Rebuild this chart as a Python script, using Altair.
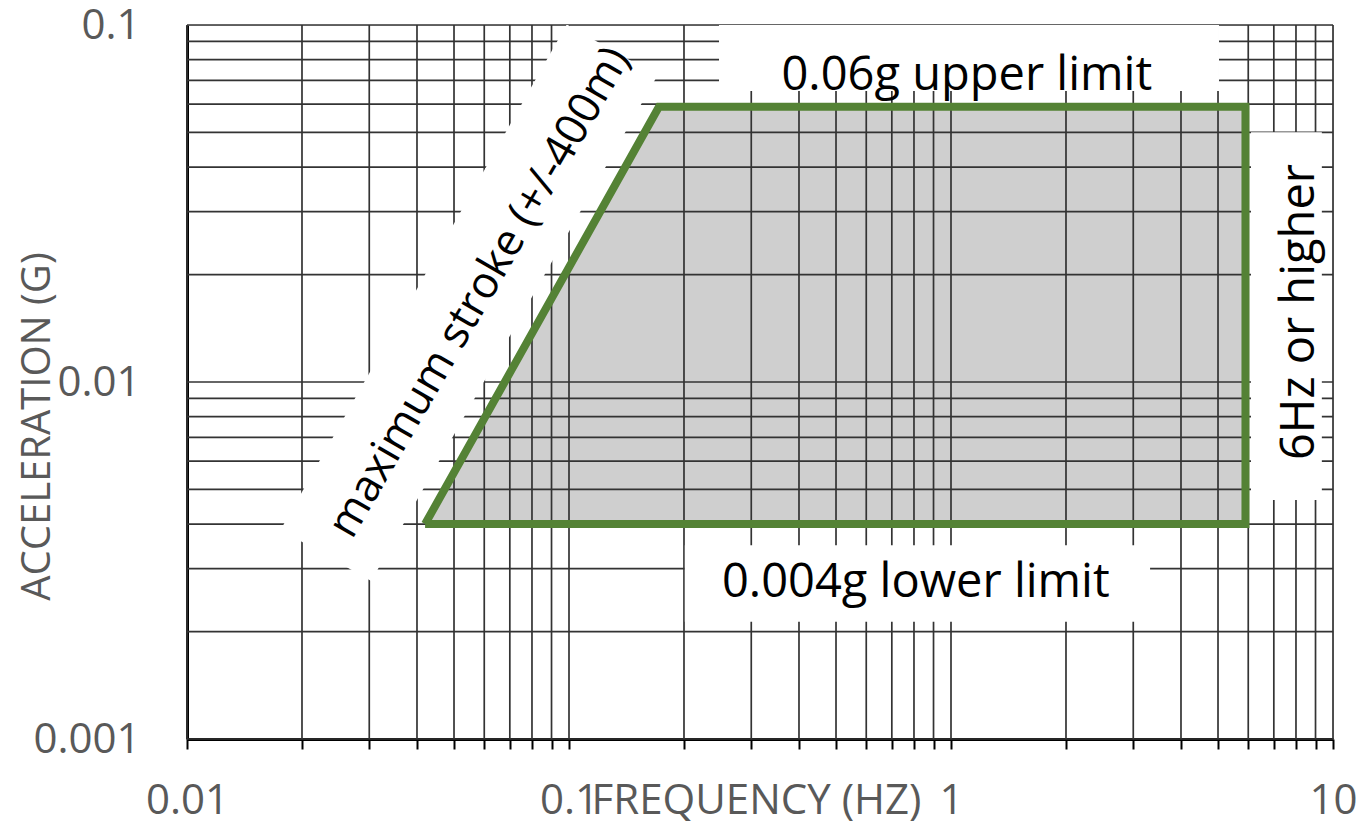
import altair as alt
import pandas as pd

# ---- data ----
grid_freq = [0.01, 0.02, 0.03, 0.04, 0.05, 0.06, 0.07, 0.08, 0.09,
             0.1, 0.2, 0.3, 0.4, 0.5, 0.6, 0.7, 0.8, 0.9,
             1, 2, 3, 4, 5, 6, 7, 8, 9, 10]
grid_acc = [0.001, 0.002, 0.003, 0.004, 0.005, 0.006, 0.007, 0.008, 0.009,
            0.01, 0.02, 0.03, 0.04, 0.05, 0.06, 0.07, 0.08, 0.09, 0.1]
x_labels = [0.01, 0.1, 1, 10]
y_labels = [0.001, 0.01, 0.1]

# operating envelope (polygon)
poly_freq = [0.042, 0.172, 5.9, 5.9, 0.042]
poly_acc = [0.004, 0.059, 0.059, 0.004, 0.004]
poly_order = [0, 1, 2, 3, 4]

# filled area (horizontal): acceleration -> left / right frequency
area_acc = [0.004, 0.059]
area_left = [0.042, 0.172]
area_right = [5.9, 5.9]

# white label boxes
box_x1 = [0.247, 0.201, 6.1]
box_x2 = [5.03, 3.32, 9.35]
box_y1 = [0.0653, 0.00213, 0.00467]
box_y2 = [0.1, 0.00349, 0.0501]

# slanted white band behind the diagonal label
band_x1 = [0.0231]
band_x2 = [0.1296]
band_y1 = [0.00327]
band_y2 = [0.0851]

# annotation texts
ann_text = ["0.06g upper limit", "0.004g lower limit", "6Hz or higher", "maximum stroke (+/-400m)"]
ann_x = [1.10, 0.809, 8.2, 0.0585]
ann_y = [0.0718, 0.00274, 0.0157, 0.0178]
ann_angle = [0, 0, 270, 300]
ann_size = [47, 47, 47, 44]

# ---- chart ----
FONT = "Open Sans"
GRAY = "#595959"
GREEN = "#548235"

x_scale = alt.Scale(type="log", domain=[0.01, 10], nice=False)
y_scale = alt.Scale(type="log", domain=[0.001, 0.1], nice=False)

label_expr_x = "indexof([" + ",".join(str(v) for v in x_labels) + "], datum.value) >= 0 ? datum.label : ''"

x_axis = alt.Axis(values=grid_freq, labelExpr=label_expr_x, format="~g", grid=False,
                  title="FREQUENCY (HZ)", titleFont=FONT, titleFontSize=42, titleFontWeight="normal",
                  titleColor=GRAY, titleX=569, titleY=61, titleBaseline="middle",
                  labelFont=FONT, labelFontSize=42, labelColor=GRAY, labelBaseline="middle",
                  labelPadding=51, tickSize=10, tickColor="black", tickWidth=2,
                  domainColor="black", domainWidth=3, labelOverlap=False, labelFlush=False)
y_axis = alt.Axis(values=y_labels, format="~g", grid=False, ticks=False,
                  title="ACCELERATION (G)", titleFont=FONT, titleFontSize=40, titleFontWeight="normal",
                  titleColor=GRAY, titleX=-150, titleY=401, titleAngle=270, titleAlign="center",
                  titleBaseline="middle",
                  labelFont=FONT, labelFontSize=42, labelColor=GRAY, labelPadding=47,
                  domainColor="black", domainWidth=3, labelOverlap=False, labelFlush=False)

area_df = pd.DataFrame({"acc": area_acc, "left": area_left, "right": area_right})
area = alt.Chart(area_df).mark_area(orient="horizontal", color="#CFCFCF", opacity=1).encode(
    y=alt.Y("acc:Q", scale=y_scale, axis=y_axis),
    x=alt.X("left:Q", scale=x_scale, axis=x_axis),
    x2="right:Q",
)

vgrid = alt.Chart(pd.DataFrame({"f": grid_freq})).mark_rule(color="#333333", strokeWidth=1.7).encode(
    x=alt.X("f:Q", scale=x_scale))
hgrid = alt.Chart(pd.DataFrame({"a": grid_acc})).mark_rule(color="#333333", strokeWidth=1.7).encode(
    y=alt.Y("a:Q", scale=y_scale))

boxes_df = pd.DataFrame({"x1": box_x1, "x2": box_x2, "y1": box_y1, "y2": box_y2})
boxes = alt.Chart(boxes_df).mark_rect(color="white").encode(
    x=alt.X("x1:Q", scale=x_scale), x2="x2:Q",
    y=alt.Y("y1:Q", scale=y_scale), y2="y2:Q")

band_df = pd.DataFrame({"x1": band_x1, "x2": band_x2, "y1": band_y1, "y2": band_y2})
band = alt.Chart(band_df).mark_rule(color="white", strokeWidth=104, strokeCap="butt", clip=True).encode(
    x=alt.X("x1:Q", scale=x_scale), x2="x2:Q",
    y=alt.Y("y1:Q", scale=y_scale), y2="y2:Q")

poly_df = pd.DataFrame({"f": poly_freq, "a": poly_acc, "o": poly_order})
outline = alt.Chart(poly_df).mark_line(color=GREEN, strokeWidth=8, strokeJoin="miter").encode(
    x=alt.X("f:Q", scale=x_scale), y=alt.Y("a:Q", scale=y_scale), order="o:Q")

ann_df = pd.DataFrame({"t": ann_text, "x": ann_x, "y": ann_y, "ang": ann_angle, "s": ann_size})
texts = alt.Chart(ann_df).mark_text(font=FONT, color="black", align="center", baseline="middle").encode(
    x=alt.X("x:Q", scale=x_scale), y=alt.Y("y:Q", scale=y_scale), text="t:N",
    angle=alt.Angle("ang:Q", scale=None), size=alt.Size("s:Q", scale=None))

chart = alt.layer(area, vgrid, hgrid, band, boxes, outline, texts).properties(
    width=1146, height=714,
    padding={"left": 179, "top": 17, "right": 26, "bottom": 85},
    autosize=alt.AutoSizeParams(type="none"),
).configure_view(stroke="black", strokeWidth=2).configure(background="white")

chart.save("out.html", embed_options={"renderer": "svg", "actions": False})
